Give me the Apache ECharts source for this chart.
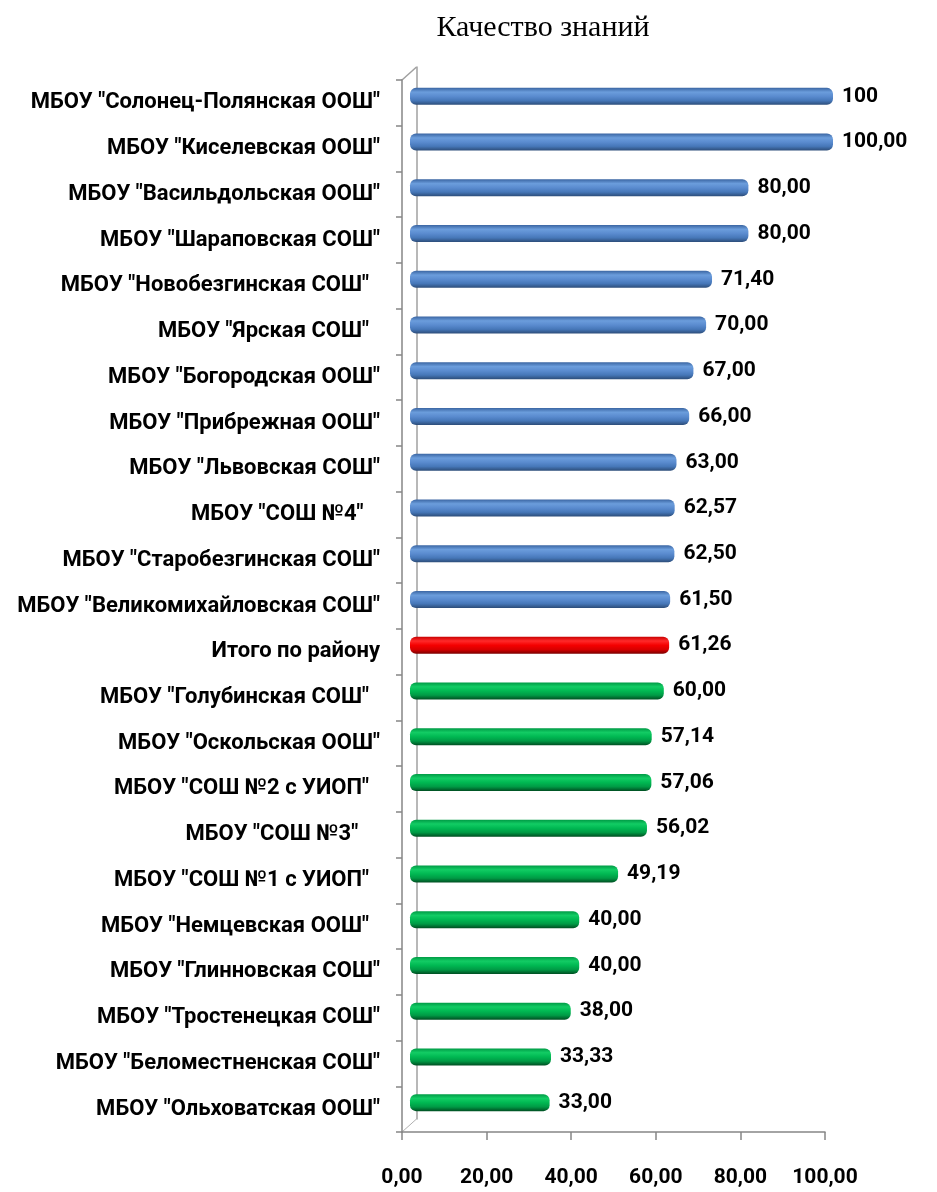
<!DOCTYPE html>
<html>
<head>
<meta charset="utf-8">
<script src="https://cdn.jsdelivr.net/npm/echarts@6/dist/echarts.min.js"></script>
<style>
html, body { margin: 0; padding: 0; background: #fff; }
#chart { width: 937px; height: 1192px; }
</style>
</head>
<body>
<div id="chart"></div>
<script>
// школы сверху вниз
var schools = [
	'МБОУ "Солонец-Полянская ООШ"',
	'МБОУ "Киселевская ООШ"',
	'МБОУ "Васильдольская ООШ"',
	'МБОУ "Шараповская СОШ"',
	'МБОУ "Новобезгинская СОШ"  ',
	'МБОУ "Ярская СОШ"  ',
	'МБОУ "Богородская ООШ"',
	'МБОУ "Прибрежная ООШ"',
	'МБОУ "Львовская СОШ"',
	'МБОУ "СОШ №4"   ',
	'МБОУ "Старобезгинская СОШ"',
	'МБОУ "Великомихайловская СОШ"',
	'Итого по району',
	'МБОУ "Голубинская СОШ"  ',
	'МБОУ "Оскольская ООШ"',
	'МБОУ "СОШ №2 с УИОП"  ',
	'МБОУ "СОШ №3"    ',
	'МБОУ "СОШ №1 с УИОП"  ',
	'МБОУ "Немцевская ООШ"  ',
	'МБОУ "Глинновская СОШ"',
	'МБОУ "Тростенецкая СОШ"',
	'МБОУ "Беломестненская СОШ"',
	'МБОУ "Ольховатская ООШ"'
];
var quality = [100, 100, 80, 80, 71.4, 70, 67, 66, 63, 62.57, 62.5, 61.5, 61.26,
	60, 57.14, 57.06, 56.02, 49.19, 40, 40, 38, 33.33, 33];
var valueLabels = ['100', '100,00', '80,00', '80,00', '71,40', '70,00', '67,00', '66,00',
	'63,00', '62,57', '62,50', '61,50', '61,26', '60,00', '57,14', '57,06', '56,02',
	'49,19', '40,00', '40,00', '38,00', '33,33', '33,00'];
// b - школы выше среднего, r - район, g - ниже
var groups = ['b', 'b', 'b', 'b', 'b', 'b', 'b', 'b', 'b', 'b', 'b', 'b', 'r',
	'g', 'g', 'g', 'g', 'g', 'g', 'g', 'g', 'g', 'g'];
var xTicks = [0, 20, 40, 60, 80, 100];

function grad(stops) {
	return new echarts.graphic.LinearGradient(0, 0, 0, 1, stops.map(function(c, i) {
		return { offset: i / (stops.length - 1), color: c };
	}));
}
var fills = {
	b: ['#3b66a3', '#6b9ddc', '#5a8bcf', '#4677b8', '#2c4c78'],
	r: ['#c80000', '#ff2a2a', '#f50000', '#d80000', '#7a0000'],
	g: ['#009a45', '#12cc64', '#00b852', '#009a45', '#004f22']
};

var myChart = echarts.init(document.getElementById('chart'));

var fontLabel = 'Roboto, "DejaVu Sans", sans-serif';
var gridW = 423, gridH = 1052;

var option = {
	animation: false,
	title: {
		text: 'Качество знаний',
		left: 538,
		textAlign: 'center',
		top: 8,
		textStyle: {
			fontFamily: '"Liberation Serif", "Times New Roman", serif',
			fontWeight: 'normal',
			fontSize: 30,
			color: '#000'
		}
	},
	grid: [
		// передняя плоскость: оси и подписи
		{ left: 402, top: 80, width: gridW, height: gridH },
		// плоскость столбиков (3D сдвиг)
		{ left: 410, top: 73.5, width: gridW, height: gridH },
		// задняя стенка
		{ left: 416.5, top: 67, width: gridW, height: gridH }
	],
	xAxis: [{
		gridIndex: 0,
		type: 'value',
		min: 0,
		max: 100,
		interval: 20,
		axisLine: { show: true, lineStyle: { color: '#868686', width: 1.5 } },
		axisTick: { show: true, length: 8, inside: false, lineStyle: { color: '#868686', width: 1.5 } },
		splitLine: { show: false },
		axisLabel: {
			margin: 35,
			color: '#000',
			fontFamily: fontLabel,
			fontWeight: 'bold',
			fontSize: 21,
			formatter: function(v) {
				return xTicks.indexOf(v) >= 0 ? v.toFixed(2).replace('.', ',') : '';
			}
		}
	}, {
		gridIndex: 1, type: 'value', min: 0, max: 100, show: false
	}, {
		gridIndex: 2, type: 'value', min: 0, max: 100, show: false
	}],
	yAxis: [{
		gridIndex: 0,
		type: 'category',
		inverse: true,
		data: schools,
		axisLine: { show: true, lineStyle: { color: '#868686', width: 1.5 } },
		axisTick: { show: true, length: 6, lineStyle: { color: '#868686', width: 1.5 } },
		axisLabel: {
			margin: 22,
			color: '#000',
			fontFamily: fontLabel,
			fontWeight: 'bold',
			fontSize: 22,
			interval: 0
		}
	}, {
		gridIndex: 1,
		type: 'category',
		inverse: true,
		data: schools,
		show: false
	}, {
		gridIndex: 2,
		type: 'category',
		inverse: true,
		data: schools,
		axisLine: { show: true, lineStyle: { color: '#a0a0a0', width: 1.5 } },
		axisTick: { show: false },
		axisLabel: { show: false }
	}],
	graphic: [{
		type: 'line',
		shape: { x1: 402, y1: 80, x2: 416.5, y2: 67 },
		style: { stroke: '#a0a0a0', lineWidth: 1.5 }
	}, {
		type: 'line',
		shape: { x1: 402, y1: 1132, x2: 416.5, y2: 1119 },
		style: { stroke: '#b0b0b0', lineWidth: 1 }
	}],
	series: [{
		name: 'Качество знаний',
		type: 'bar',
		xAxisIndex: 1,
		yAxisIndex: 1,
		barWidth: 17,
		data: quality.map(function(v, i) {
			return {
				value: v,
				itemStyle: {
					color: grad(fills[groups[i]]),
					borderRadius: 6
				}
			};
		}),
		label: {
			show: true,
			position: 'right',
			distance: 9,
			color: '#000',
			fontFamily: fontLabel,
			fontWeight: 'bold',
			fontSize: 21,
			formatter: function(p) {
				return valueLabels[p.dataIndex];
			}
		}
	}]
};
// для echarts
myChart.setOption(option);
</script>
</body>
</html>
